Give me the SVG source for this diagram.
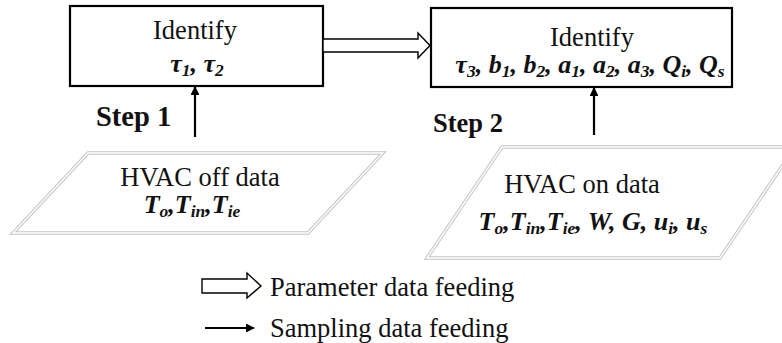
<svg xmlns="http://www.w3.org/2000/svg" width="782" height="343" viewBox="0 0 782 343">
  <defs>
    <style>
      .box { fill: #fff; stroke: #000; stroke-width: 2.2; }
      .para-out { fill: #fff; stroke: #c4c4c4; stroke-width: 3.4; stroke-linejoin: miter; }
      .para-in { fill: none; stroke: #fff; stroke-width: 1.4; }
      .txt { font-family: "Liberation Serif", "Times New Roman", serif; font-size: 26.5px; fill: #111; }
      .step { font-family: "Liberation Serif", "Times New Roman", serif; font-weight: bold; fill: #111; }
      .math { font-family: "Liberation Serif", "Times New Roman", serif; font-weight: bold; font-style: italic; font-size: 26px; fill: #111; }
      .sub { font-size: 17.5px; }
      .thin { stroke: #000; stroke-width: 2.2; fill: none; }
      .fat { fill: #fff; stroke: #000; stroke-width: 1.4; stroke-linejoin: miter; }
    </style>
    <marker id="head" viewBox="0 0 10 10" refX="9" refY="5" markerWidth="4" markerHeight="4" orient="auto" markerUnits="strokeWidth">
      <path d="M0,0 L10,5 L0,10 z" fill="#000"/>
    </marker>
  </defs>
  <rect width="782" height="343" fill="#fff"/>

  <!-- step 1 processing box -->
  <g id="identify1">
    <rect class="box" x="70" y="6" width="253" height="80"/>
    <text class="txt" x="195" y="39" text-anchor="middle">Identify</text>
    <text class="math" x="197" y="72" text-anchor="middle">τ<tspan class="sub" dy="4">1</tspan><tspan dy="-4">, τ</tspan><tspan class="sub" dy="4">2</tspan></text>
  </g>

  <!-- step 2 processing box -->
  <g id="identify2">
    <rect class="box" x="431" y="8" width="301" height="79"/>
    <text class="txt" x="592" y="46" text-anchor="middle">Identify</text>
    <text class="math" x="590" y="73" text-anchor="middle">τ<tspan class="sub" dy="4">3</tspan><tspan dy="-4">, b</tspan><tspan class="sub" dy="4">1</tspan><tspan dy="-4">, b</tspan><tspan class="sub" dy="4">2</tspan><tspan dy="-4">, a</tspan><tspan class="sub" dy="4">1</tspan><tspan dy="-4">, a</tspan><tspan class="sub" dy="4">2</tspan><tspan dy="-4">, a</tspan><tspan class="sub" dy="4">3</tspan><tspan dy="-4">, Q</tspan><tspan class="sub" dy="4">i</tspan><tspan dy="-4">, Q</tspan><tspan class="sub" dy="4">s</tspan></text>
  </g>

  <!-- input data: HVAC off -->
  <g id="data-off">
    <polygon class="para-out" points="88,153 383,153 308,233 13,233"/>
    <polygon class="para-in" points="88,153 383,153 308,233 13,233"/>
    <text class="txt" x="200" y="186" text-anchor="middle">HVAC off data</text>
    <text class="math" x="192" y="213" text-anchor="middle">T<tspan class="sub" dy="4">o</tspan><tspan dy="-4">,T</tspan><tspan class="sub" dy="4">in</tspan><tspan dy="-4">,T</tspan><tspan class="sub" dy="4">ie</tspan></text>
  </g>

  <!-- input data: HVAC on -->
  <g id="data-on">
    <polygon class="para-out" points="502,147 795,147 720,258 427,258"/>
    <polygon class="para-in" points="502,147 795,147 720,258 427,258"/>
    <text class="txt" x="582" y="193" text-anchor="middle">HVAC on data</text>
    <text class="math" x="593" y="230" text-anchor="middle">T<tspan class="sub" dy="4">o</tspan><tspan dy="-4">,T</tspan><tspan class="sub" dy="4">in</tspan><tspan dy="-4">,T</tspan><tspan class="sub" dy="4">ie</tspan><tspan dy="-4">, W, G, u</tspan><tspan class="sub" dy="4">i</tspan><tspan dy="-4">, u</tspan><tspan class="sub" dy="4">s</tspan></text>
  </g>

  <!-- step labels -->
  <g id="labels">
    <text class="step" x="96" y="126" font-size="28.5">Step 1</text>
    <text class="step" x="433" y="132" font-size="26.5">Step 2</text>
  </g>

  <!-- connectors -->
  <g id="connectors">
    <polygon class="fat" points="323,39 418,39 418,33 430,45.5 418,58 418,52 323,52"/>
    <line class="thin" x1="195" y1="137" x2="195" y2="87" marker-end="url(#head)"/>
    <line class="thin" x1="594" y1="135" x2="594" y2="88" marker-end="url(#head)"/>
  </g>

  <!-- legend -->
  <g id="legend">
    <polygon class="fat" points="202,279 247,279 247,273 261,286 247,298 247,293 202,293"/>
    <text class="txt" x="270" y="296">Parameter data feeding</text>
    <line class="thin" x1="205" y1="328" x2="254" y2="328" marker-end="url(#head)"/>
    <text class="txt" x="270" y="337">Sampling data feeding</text>
  </g>
</svg>
